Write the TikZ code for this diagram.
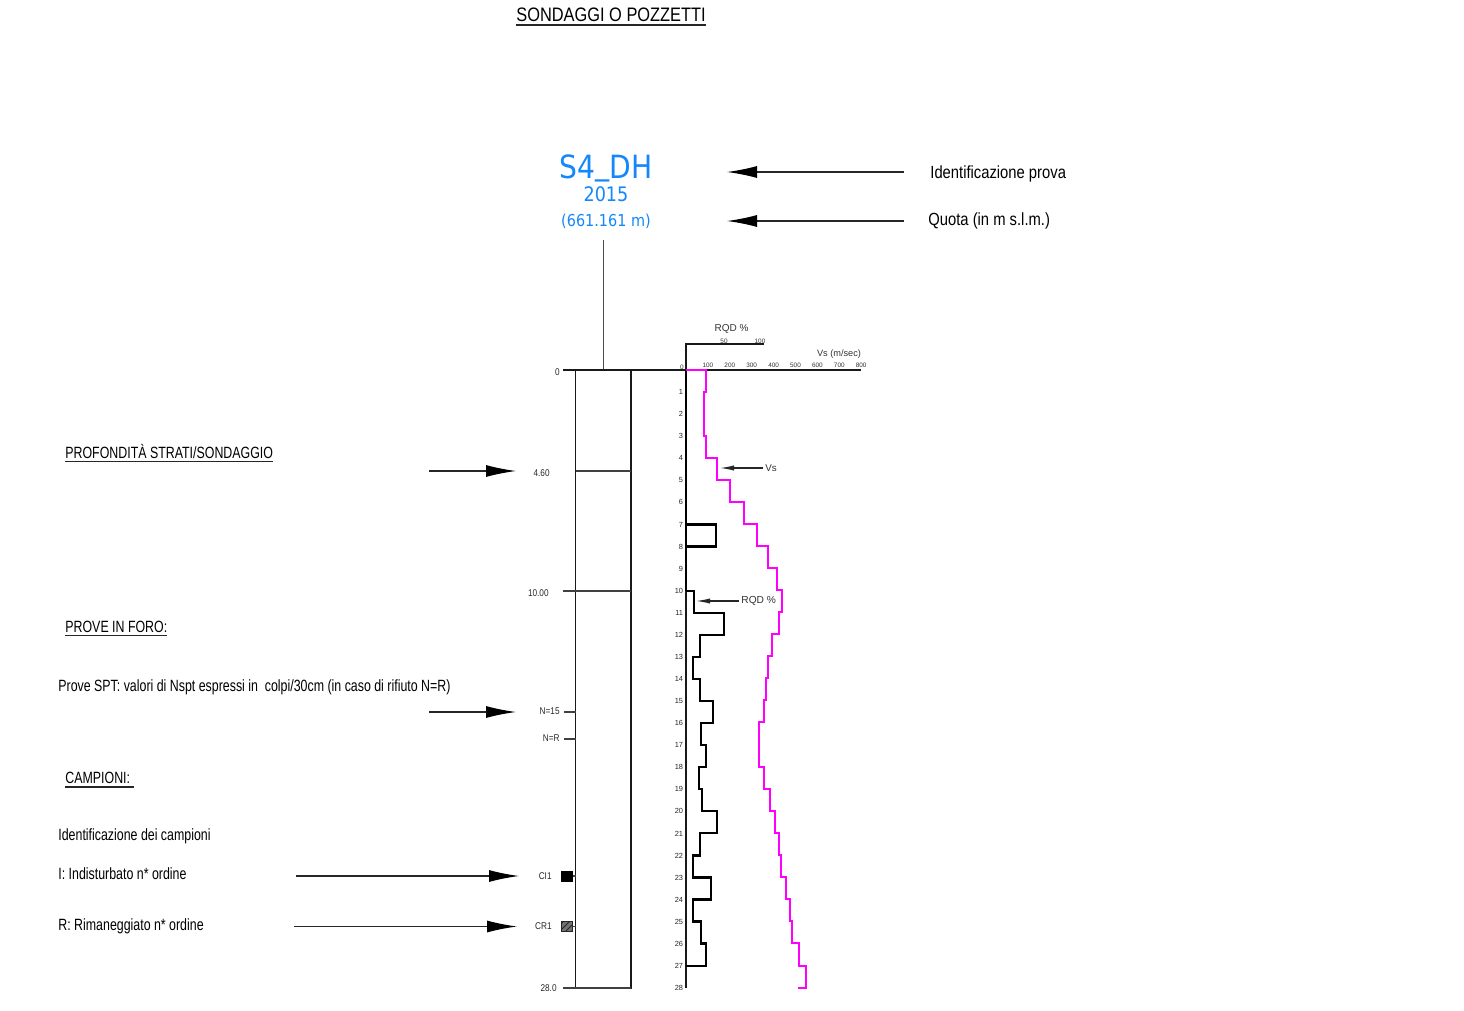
\documentclass[tikz,border=0pt]{standalone}
\usepackage{fontspec}
\setmainfont{Liberation Sans}
\newfontfamily\narrowf[FakeStretch=0.84]{Liberation Sans}
\newfontfamily\narrowerf[FakeStretch=0.76]{Liberation Sans}
\newfontfamily\bluef[FakeStretch=0.88]{DejaVu Sans}
\usetikzlibrary{arrows.meta,patterns}
\definecolor{blu}{RGB}{20,135,250}
\definecolor{mag}{RGB}{255,0,255}
\tikzset{
 lab/.style={font=\narrowerf\fontsize{8.15}{9}\selectfont,text=black,inner sep=0,anchor=west},
 head/.style={font=\narrowf\fontsize{8.8}{10}\selectfont,text=black,inner sep=0,anchor=west},
 bluetxt/.style={text=blu,inner sep=0,anchor=base},
 tiny/.style={font=\fontsize{3.2}{4}\selectfont,text=black!80,inner sep=0},
 small/.style={font=\fontsize{4.6}{5}\selectfont,text=black!80,inner sep=0},
 depth/.style={font=\narrowf\fontsize{4.9}{5}\selectfont,text=black!85,inner sep=0,anchor=east},
 bigarrow/.style={draw=black!85,line width=.6pt,-{Latex[length=15pt,width=6pt,black]}},
 thinarrow/.style={draw=black!85,line width=.6pt,-{Latex[length=7pt,width=2.6pt]}},
 gridl/.style={draw=black!75,line width=.55pt},
 ax/.style={draw=black!90,line width=.5pt},
 uline/.style={draw=black!85,line width=.7pt},
 prof/.style={line width=1.1pt,line join=miter},
}
\begin{document}
\begin{tikzpicture}[x=.5pt,y=-.5pt]
\useasboundingbox (0,0) rectangle (1464,1011);
% title
\node[head] (title) at (516,15) {\fontsize{9.75}{10}\selectfont SONDAGGI O POZZETTI};
\draw[uline] (516,25) -- (706,25);
% header
\node[bluetxt,font=\bluef\fontsize{16}{17}\selectfont] (id) at (606,179) {S4\raisebox{2.4pt}{\_}DH};
\node[bluetxt,font=\bluef\fontsize{10}{11}\selectfont] (yr) at (606,202) {2015};
\node[bluetxt,font=\bluef\fontsize{8.2}{9}\selectfont] (q) at (606,226.5) {(661.161 m)};
\node[head] (lid) at (930,173.5) {Identificazione prova};
\node[head] (lq) at (928,220.5) {Quota (in m s.l.m.)};
\coordinate (a1s) at (904,172); \coordinate (a1e) at (727,172);
\coordinate (a2s) at (904,221); \coordinate (a2e) at (727,221);
\draw[bigarrow] (a1s) -- (a1e);
\draw[bigarrow] (a2s) -- (a2e);
% log column
\coordinate (top) at (603,240); \coordinate (top0) at (603,370);
\draw[draw=black!70,line width=.35pt] (top) -- (top0);
\draw[line width=.55pt,draw=black!90] (575.5,370) rectangle (631,988);
\draw[draw=black!90,line width=.65pt] (563,370) -- (861,370);
\node[depth] (d0) at (560,372) {0};
\node[depth] (d1) at (550,473) {4.60};
\draw[gridl] (575.5,471) -- (631,471);
\node[depth] (d2) at (549,593) {10.00};
\draw[gridl] (563,591) -- (631,591);
\node[depth] (d3) at (557,988) {28.0};
\draw[gridl,line width=.7pt] (563,988) -- (631,988);
\node[depth] (n1) at (560,711) {N=15};
\node[depth] (n2) at (560,738) {N=R};
\draw[gridl] (564,712) -- (575.5,712);
\draw[gridl] (564,739) -- (575.5,739);
\node[depth] (c1) at (552,876) {CI1};
\node[depth] (c2) at (552,926.5) {CR1};
\node[fill=black,minimum width=6pt,minimum height=5.5pt,inner sep=0] (s1) at (567,876) {};
\node[fill=black!55,draw=black!85,line width=.4pt,minimum width=5.2pt,minimum height=5.2pt,inner sep=0,postaction={pattern=north east lines,pattern color=black!85}] (s2) at (567,926.5) {};
\draw[gridl] (s1.east) -- (575.5,876);
\draw[gridl] (s2.east) -- (575.5,926.5);
% left labels
\node[lab] (p1) at (65,451.5) {PROFONDITÀ STRATI/SONDAGGIO};
\draw[uline] (65,461.5) -- (273,461.5);
\node[lab] (p2) at (65,627) {PROVE IN FORO:};
\draw[uline] (65,635.5) -- (167,635.5);
\node[lab] (p3) at (58,687) {Prove SPT: valori di Nspt espressi in \ colpi/30cm (in caso di rifiuto N=R)};
\node[lab] (p4) at (65,778) {CAMPIONI:};
\draw[uline] (65,787) -- (134,787);
\node[lab] (p5) at (58,836) {Identificazione dei campioni};
\node[lab] (p6) at (58,874) {I: Indisturbato n* ordine};
\node[lab] (p7) at (58,926.5) {R: Rimaneggiato n* ordine};
\coordinate (b1s) at (429,471); \coordinate (b1e) at (516,471);
\coordinate (b2s) at (429,712); \coordinate (b2e) at (516,712);
\coordinate (b3s) at (296,876); \coordinate (b3e) at (519,876);
\coordinate (b4s) at (294,926.5); \coordinate (b4e) at (517,926.5);
\draw[bigarrow] (b1s) -- (b1e);
\draw[bigarrow] (b2s) -- (b2e);
\draw[bigarrow] (b3s) -- (b3e);
\draw[bigarrow] (b4s) -- (b4e);
% axes
\draw[ax,line width=.55pt] (686,370) -- (686,988);
\draw[draw=black,line width=1pt] (686,370) -- (686,591);
\draw[ax,line width=.6pt] (686,370) -- (686,344) -- (763,344);
\foreach \i in {1,...,8}{
  \pgfmathtruncatemacro{\v}{100*\i}
  \node[tiny] (vs\i) at ({686+21.9*\i},365.5) {\v};}
\node[tiny] (vs0) at (682,367) {0};
\foreach \i in {1,...,10}{\draw[ax,line width=.35pt] ({686+7.7*\i},343) -- ({686+7.7*\i},345);}
\node[tiny] (r50) at (724,341) {50};
\node[tiny] (r100) at (760,341) {100};
\node[font=\fontsize{5}{6}\selectfont,text=black!80,inner sep=0] (rq) at (731.5,328.5) {RQD \%};
\node[small] (vsl) at (839,354) {Vs (m/sec)};
\foreach \i in {1,...,28}{
  \node[font=\fontsize{3.7}{4}\selectfont,text=black!85,inner sep=0,anchor=east] (m\i) at (683.5,{370+22.07*\i}) {\i};}
% RQD profile
\draw[black,prof]
 (686,524.5) -- (716,524.5) -- (716,546.5) -- (686,546.5)
 (686,591) -- (694,591) -- (694,613) -- (724.3,613) -- (724.3,635) -- (699.7,635) -- (699.7,657) -- (693,657)
 -- (693,679) -- (699.7,679) -- (699.7,701) -- (712.7,701) -- (712.7,723) -- (701,723) -- (701,745) -- (706,745)
 -- (706,767) -- (699.3,767) -- (699.3,789) -- (702.3,789) -- (702.3,811) -- (717.3,811) -- (717.3,833) -- (699.7,833)
 -- (699.7,855.5) -- (693,855.5) -- (693,877.5) -- (711.3,877.5) -- (711.3,899.5) -- (693,899.5) -- (693,921.5)
 -- (700.7,921.5) -- (700.7,943.5) -- (706,943.5) -- (706,966) -- (686,966);
% Vs profile
\draw[mag,prof]
 (686,370) -- (706,370) -- (706,392) -- (704,392) -- (704,436) -- (706,436) -- (706,458) -- (717.3,458)
 -- (717.3,480) -- (730.3,480) -- (730.3,502) -- (743.7,502) -- (743.7,524) -- (757,524) -- (757,546) -- (768.3,546)
 -- (768.3,568) -- (777,568) -- (777,590) -- (781.7,590) -- (781.7,612) -- (779,612) -- (779,634) -- (772.3,634)
 -- (772.3,656) -- (768.3,656) -- (768.3,678) -- (766,678) -- (766,700) -- (763.7,700) -- (763.7,722) -- (759,722)
 -- (759,767) -- (763.7,767) -- (763.7,789) -- (770.3,789) -- (770.3,811) -- (774.7,811) -- (774.7,833) -- (779,833)
 -- (779,855) -- (781,855) -- (781,877) -- (785.7,877) -- (785.7,899) -- (790.3,899) -- (790.3,921) -- (792.3,921)
 -- (792.3,943) -- (799,943) -- (799,966) -- (805.7,966) -- (805.7,988) -- (797.7,988);
% callouts
\node[small,font=\fontsize{4.9}{5}\selectfont,anchor=west] (vl) at (765,468) {Vs};
\coordinate (vt) at (720,468);
\draw[thinarrow] (vl.west) ++(-2,0) -- (vt);
\node[small,font=\fontsize{5.1}{6}\selectfont,anchor=west] (rl) at (741,601) {RQD \%};
\coordinate (rt) at (696,601);
\draw[thinarrow] (rl.west) ++(-2,0) -- (rt);
\end{tikzpicture}
\end{document}
